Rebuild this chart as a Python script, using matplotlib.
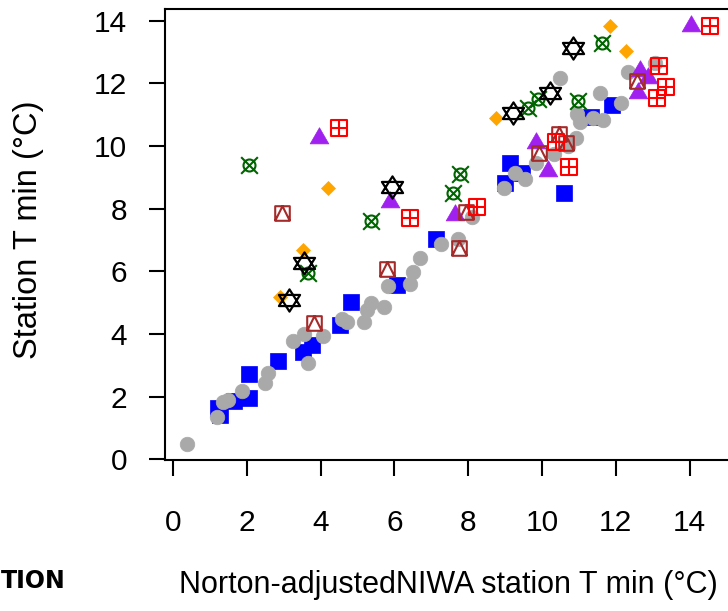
import matplotlib
matplotlib.use("Agg")
import matplotlib.pyplot as plt
from matplotlib.path import Path

plt.rcParams['font.family'] = ['Liberation Sans', 'DejaVu Sans']

# ---- data: NIWA-adjusted vs station minimum temperatures (deg C) ----
gray_x = [0.37, 1.18, 1.36, 1.50, 1.86, 2.49, 2.58, 3.26, 3.56, 3.67, 4.07, 4.59,
          4.72, 5.17, 5.26, 5.37, 5.71, 5.84, 6.42, 6.51, 6.70, 7.27, 7.73, 8.09,
          8.98, 9.27, 9.54, 9.85, 10.32, 10.50, 10.92, 10.70, 10.94, 11.03, 11.39,
          11.66, 11.57, 12.14, 12.34, 13.06]
gray_y = [0.49, 1.34, 1.84, 1.88, 2.18, 2.43, 2.75, 3.78, 4.01, 3.08, 3.95, 4.48,
          4.38, 4.37, 4.77, 5.00, 4.86, 5.54, 5.61, 5.98, 6.41, 6.86, 7.04, 7.74,
          8.65, 9.15, 8.95, 9.45, 9.73, 12.17, 10.27, 10.00, 11.01, 10.78, 10.88,
          10.83, 11.70, 11.36, 12.37, 12.66]

blue_x = [1.23, 1.27, 1.65, 2.06, 2.06, 2.84, 3.53, 3.76, 4.53, 4.82, 6.06, 7.12,
          9.01, 9.13, 9.45, 10.60, 11.33, 11.90]
blue_y = [1.63, 1.41, 1.87, 2.72, 1.95, 3.14, 3.43, 3.65, 4.29, 5.03, 5.56, 7.03,
          8.81, 9.47, 9.13, 8.50, 10.94, 11.31]

orange_x = [2.91, 3.53, 4.21, 8.76, 11.84, 12.28]
orange_y = [5.19, 6.68, 8.65, 10.89, 13.83, 13.04]

purple_x = [3.97, 5.88, 7.63, 9.85, 10.16, 12.66, 12.86, 12.61, 14.04]
purple_y = [10.25, 8.22, 7.80, 10.09, 9.20, 12.40, 12.16, 11.68, 13.83]

green_x = [2.06, 3.65, 5.36, 7.58, 7.77, 9.61, 9.90, 10.98, 11.62]
green_y = [9.38, 5.96, 7.62, 8.49, 9.12, 11.20, 11.50, 11.45, 13.28]

black_x = [3.14, 3.55, 5.93, 9.22, 10.22, 10.83]
black_y = [5.07, 6.26, 8.70, 11.04, 11.68, 13.12]

brown_x = [2.96, 3.83, 5.79, 7.75, 7.95, 9.93, 10.45, 10.64, 12.57]
brown_y = [7.85, 4.35, 6.06, 6.76, 7.90, 9.77, 10.38, 10.09, 12.08]

red_x = [4.51, 6.41, 8.23, 10.38, 10.72, 13.18, 13.36, 13.12, 14.55]
red_y = [10.56, 7.69, 8.06, 10.12, 9.34, 12.56, 11.89, 11.54, 13.83]

x_ticks = [0, 2, 4, 6, 8, 10, 12, 14]
y_ticks = [0, 2, 4, 6, 8, 10, 12, 14]

# ---- custom open marker shapes ----
M, L, CL = Path.MOVETO, Path.LINETO, Path.CLOSEPOLY

def hexagram(w=0.95):
    verts = [(0, 1), (-w, -0.5), (w, -0.5), (0, 1),
             (0, -1), (-w, 0.5), (w, 0.5), (0, -1)]
    return Path(verts, [M, L, L, CL] * 2)

def square_plus():
    verts = [(-1, -1), (1, -1), (1, 1), (-1, 1), (-1, -1),
             (0, -1), (0, 1), (-1, 0), (1, 0)]
    return Path(verts, [M, L, L, L, CL, M, L, M, L])

def square_triangle():
    verts = [(-1, -1), (1, -1), (1, 1), (-1, 1), (-1, -1),
             (-1, -1), (0, 1), (1, -1)]
    return Path(verts, [M, L, L, L, CL, M, L, L])

def circle_cross(r=0.72):
    circ = Path.circle((0, 0), r)
    x1 = Path([(-1, -1), (1, 1)], [M, L])
    x2 = Path([(-1, 1), (1, -1)], [M, L])
    return Path.make_compound_path(circ, x1, x2)

def triangle_up():
    return Path([(0, 1.555), (1.347, -0.778), (-1.347, -0.778), (0, 1.555)],
                [M, L, L, CL])

# ---- layout ----
W, H = 728, 611
fig = plt.figure(figsize=(W / 100, H / 100), dpi=100)
ax_left, ax_top, ax_bottom, ax_w = 164.5, 9, 460, 580
ax = fig.add_axes([ax_left / W, (H - ax_bottom) / H, ax_w / W, (ax_bottom - ax_top) / H])
x0 = -0.23
ax.set_xlim(x0, x0 + ax_w / 36.9)
y0 = -0.022
ax.set_ylim(y0, y0 + (ax_bottom - ax_top) / 31.33)

ax.plot(blue_x, blue_y, ls='none', marker='s', ms=11.5, mfc='#0000FF', mec='#0000FF', mew=0.5, zorder=2)
ax.plot(gray_x, gray_y, ls='none', marker='o', ms=10.5, mfc='#A9A9A9', mec='#A9A9A9', mew=0.5, zorder=3)
ax.plot(purple_x, purple_y, ls='none', marker=triangle_up(), ms=15.5, mfc='#A020F0', mec='#A020F0', mew=0.5, zorder=4)
ax.plot(orange_x, orange_y, ls='none', marker='D', ms=7.2, mfc='#FFA500', mec='#FFA500', mew=0.5, zorder=4)
ax.plot(green_x, green_y, ls='none', marker=circle_cross(), ms=12, mfc='none', mec='#006400', mew=1.5, zorder=5)
ax.plot(black_x, black_y, ls='none', marker=hexagram(), ms=16, mfc='none', mec='black', mew=1.6, zorder=6)
ax.plot(brown_x, brown_y, ls='none', marker=square_triangle(), ms=10.5, mfc='none', mec='#A52A2A', mew=1.5, zorder=6)
ax.plot(red_x, red_y, ls='none', marker=square_plus(), ms=11.8, mfc='none', mec='#FF0000', mew=1.5, zorder=7)

for s in ax.spines.values():
    s.set_linewidth(1.5)
ax.set_xticks(x_ticks)
ax.set_yticks(y_ticks)
ax.set_xticklabels([str(v) for v in x_ticks])
ax.set_yticklabels([str(v) for v in y_ticks])
ax.tick_params(axis='both', direction='out', length=11.5, width=1.5, labelsize=21.5)
ax.tick_params(axis='x', pad=23.5)
ax.tick_params(axis='y', pad=15.5)

fig.text(29 / W, 1 - 230 / H, 'Station T min (°C)', rotation=90, fontsize=23.5,
         ha='center', va='center')
fig.text(448.5 / W, 1 - 585 / H, 'Norton-adjustedNIWA station T min (°C)', fontsize=22,
         ha='center', va='center')
fig.text(1 / W, 1 - 581 / H, 'TION', fontsize=17, fontweight='bold',
         family='DejaVu Sans', ha='left', va='center')

fig.savefig('out.png', dpi=100)
